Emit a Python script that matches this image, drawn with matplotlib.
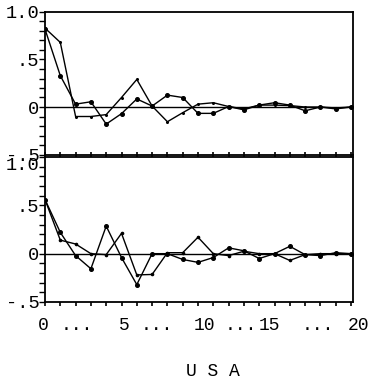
import numpy as np
import matplotlib.pyplot as plt
import matplotlib.transforms as mtransforms
from matplotlib.ticker import MultipleLocator

# lags 0..20
lags = list(range(21))

# top panel, two autocorrelation series
top_a = [0.83, 0.68, -0.10, -0.10, -0.08, 0.10, 0.29, 0.01, -0.155, -0.06, 0.03,
         0.045, 0.005, -0.02, 0.02, 0.02, 0.015, 0.0, 0.0, -0.01, 0.0]
top_b = [0.82, 0.33, 0.03, 0.055, -0.18, -0.07, 0.085, 0.01, 0.125, 0.10, -0.067,
         -0.067, 0.005, -0.03, 0.02, 0.045, 0.02, -0.04, 0.0, -0.02, 0.0]

# bottom panel
bot_c = [0.56, 0.22, -0.02, -0.156, 0.285, -0.04, -0.32, 0.0, 0.0, -0.06, -0.09,
         -0.04, 0.06, 0.03, -0.05, 0.0, 0.076, -0.01, -0.02, 0.01, 0.0]
bot_d = [0.56, 0.14, 0.10, 0.0, -0.01, 0.21, -0.22, -0.215, 0.01, 0.01, 0.17,
         0.0, -0.02, 0.025, 0.0, 0.0, -0.07, -0.01, 0.0, 0.0, 0.0]

yticks = [-0.5, 0.0, 0.5, 1.0]
yticklabels = ['-.5', '0', '.5', '1.0']
xlabel_parts = [('0', -0.1), ('...', 2.1), ('5', 5.2), ('...', 7.3), ('10', 10.4),
                ('...', 12.8), ('15', 14.7), ('...', 17.8), ('20', 20.5)]

mono = 'Liberation Mono'
W, H = 375, 383

fig = plt.figure(figsize=(W / 100, H / 100), dpi=100)
ax1 = fig.add_axes([45 / W, 1 - 154.5 / H, 308 / W, 142.5 / H])
ax2 = fig.add_axes([45 / W, 1 - 302 / H, 308 / W, 145 / H])


def style(ax, series):
    ax.axhline(0, color='black', lw=1.0, zorder=1)
    for s, ms in series:
        ax.plot(lags, s, color='black', lw=1.0, marker='o', ms=ms, zorder=2)
    ax.set_xlim(0, 20.13)
    ax.set_ylim(-0.5, 1.0)
    ax.set_yticks(yticks)
    ax.set_yticklabels(yticklabels, fontfamily=mono, fontsize=13.5)
    ax.yaxis.set_minor_locator(MultipleLocator(0.1))
    ax.tick_params(axis='y', which='both', direction='out', length=4, width=1, pad=0)
    ax.set_xticks(lags)
    ax.set_xticklabels([])
    for sp in ax.spines.values():
        sp.set_linewidth(1.3)


style(ax1, [(top_a, 1.2), (top_b, 2.6)])
style(ax2, [(bot_c, 2.6), (bot_d, 1.6)])

ax1.tick_params(axis='x', direction='inout', length=4, width=1.2)
ax2.tick_params(axis='x', direction='out', length=3, width=1.2)

# the 1.0 label of the lower panel sits just below its tick
ax2.get_yticklabels()[-1].set_verticalalignment('top')

# x label row: data units across, pixel row 325 down
trans = mtransforms.blended_transform_factory(ax2.transData, fig.transFigure)
for txt, pos in xlabel_parts:
    fig.text(pos, 1 - 325 / H, txt, transform=trans, ha='center', va='center',
             fontfamily=mono, fontsize=13)

fig.text(213 / W, 1 - 372 / H, 'U S A', ha='center', va='center',
         fontfamily=mono, fontsize=13)

fig.savefig('out.png', dpi=100)
